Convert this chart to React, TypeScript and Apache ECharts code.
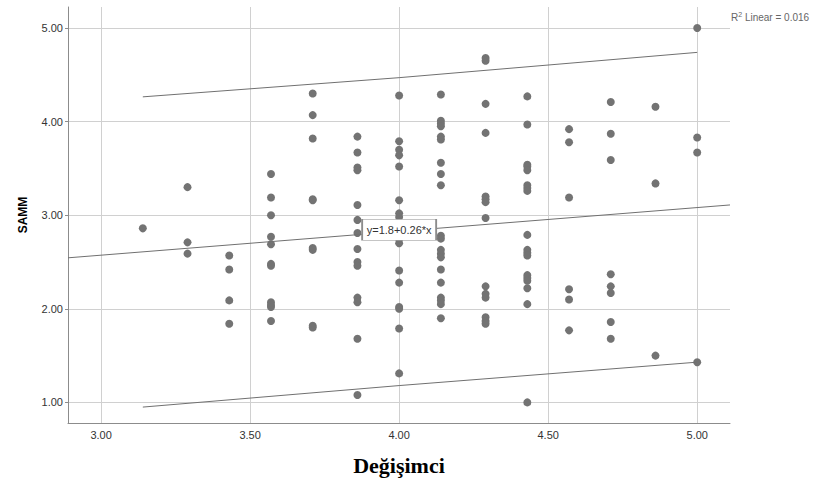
import React, { useEffect, useRef } from "react";
import * as echarts from "echarts";

// X levels (Değişimci) and the SAMM values observed at each level
const xLevels = [3.14, 3.29, 3.43, 3.57, 3.71, 3.86, 4.0, 4.14, 4.29, 4.43, 4.57, 4.71, 4.86, 5.0];
const sammByLevel: number[][] = [
  [2.86],
  [3.3, 2.71, 2.59],
  [2.57, 2.42, 2.09, 1.84],
  [3.44, 3.19, 3.0, 2.77, 2.69, 2.48, 2.46, 2.07, 2.04, 2.02, 1.87],
  [4.3, 4.07, 3.82, 3.17, 3.16, 2.65, 2.63, 1.82, 1.8],
  [3.84, 3.67, 3.51, 3.48, 3.11, 2.95, 2.81, 2.64, 2.5, 2.46, 2.12, 2.07, 1.68, 1.08],
  [4.28, 3.79, 3.7, 3.64, 3.52, 3.16, 3.02, 2.98, 2.8, 2.75, 2.7, 2.41, 2.28, 2.02, 2.0, 1.79, 1.31],
  [4.29, 4.01, 3.98, 3.95, 3.84, 3.81, 3.56, 3.44, 3.32, 2.78, 2.75, 2.63, 2.59, 2.55, 2.42, 2.28, 2.12, 2.09, 2.05, 1.9],
  [4.68, 4.65, 4.19, 3.88, 3.2, 3.17, 3.14, 2.97, 2.24, 2.16, 2.12, 1.91, 1.87, 1.84],
  [4.27, 3.97, 3.54, 3.52, 3.48, 3.32, 3.29, 3.26, 2.79, 2.63, 2.6, 2.57, 2.36, 2.33, 2.3, 2.22, 2.05, 1.0],
  [3.92, 3.78, 3.19, 2.21, 2.1, 1.77],
  [4.21, 3.87, 3.59, 2.37, 2.24, 2.17, 1.86, 1.68],
  [4.16, 3.34, 1.5],
  [5.0, 3.83, 3.67, 1.43],
];

// Fit line and individual prediction interval
const fitLine = [[2.889, 2.545], [5.11, 3.11]];
const upperBand = [[3.14, 4.265], [4.0, 4.47], [5.0, 4.74]];
const lowerBand = [[3.14, 0.95], [4.0, 1.18], [5.0, 1.43]];
const fitLabelAt = [4.0, 2.845];
const fitEquation = "y=1.8+0.26*x";
const rSquaredText = "0.016";

const xTicks = [3.0, 3.5, 4.0, 4.5, 5.0];
const yTicks = [1.0, 2.0, 3.0, 4.0, 5.0];

export default function App() {
  const ref = useRef<HTMLDivElement>(null);
  useEffect(() => {
    document.body.style.margin = "0";
    if (!ref.current) return;
    const chart = echarts.init(ref.current, null, { renderer: "svg" });
    const points: number[][] = [];
    xLevels.forEach((x, i) => sammByLevel[i].forEach((y) => points.push([x, y])));
    const axisColor = "#8c8c8c";
    const gridColor = "#d0d0d0";
    const labelStyle = { color: "#333", fontSize: 11, fontFamily: "Liberation Sans, Arial, sans-serif" };
    chart.setOption({
      animation: false,
      backgroundColor: "#fff",
      grid: { left: 68, right: 86, top: 7, bottom: 62 },
      xAxis: {
        type: "value",
        min: 2.889,
        max: 5.11,
        name: "Değişimci",
        nameLocation: "middle",
        nameGap: 31,
        nameTextStyle: { fontFamily: "Liberation Serif, Times New Roman, serif", fontWeight: "bold", fontSize: 22, color: "#000" },
        axisLine: { show: true, lineStyle: { color: axisColor } },
        axisTick: { show: false, customValues: xTicks },
        axisLabel: { ...labelStyle, customValues: xTicks, margin: 6, formatter: (v: number) => v.toFixed(2) },
        splitLine: { show: true, lineStyle: { color: gridColor, width: 1 } },
      },
      yAxis: {
        type: "value",
        min: 0.78,
        max: 5.225,
        name: "SAMM",
        nameLocation: "middle",
        nameGap: 39,
        nameTextStyle: { fontFamily: "Liberation Sans, Arial, sans-serif", fontWeight: "bold", fontSize: 12, color: "#000" },
        axisLine: { show: true, lineStyle: { color: axisColor } },
        axisTick: { show: true, length: 3, lineStyle: { color: axisColor }, customValues: yTicks },
        axisLabel: { ...labelStyle, customValues: yTicks, margin: 5, formatter: (v: number) => v.toFixed(2) },
        splitLine: { show: true, lineStyle: { color: gridColor, width: 1 } },
      },
      series: [
        {
          type: "line",
          data: upperBand,
          symbol: "none",
          lineStyle: { color: "#707070", width: 1 },
          silent: true,
        },
        {
          type: "line",
          data: lowerBand,
          symbol: "none",
          lineStyle: { color: "#707070", width: 1 },
          silent: true,
        },
        {
          type: "scatter",
          data: points,
          symbol: "circle",
          symbolSize: 8,
          z: 2,
          itemStyle: { color: "#737373", opacity: 1 },
        },
        {
          type: "line",
          data: fitLine,
          symbol: "none",
          lineStyle: { color: "#707070", width: 1 },
          silent: true,
          z: 10,
          markPoint: {
            silent: true,
            z: 20,
            symbol: "rect",
            symbolSize: [74, 21],
            itemStyle: { color: "#ffffff", borderColor: "#8c8c8c", borderWidth: 1, opacity: 1 },
            label: { show: true, position: "inside", formatter: fitEquation, ...labelStyle, color: "#333" },
            data: [{ coord: fitLabelAt }],
          },
        },
      ],
      graphic: [
        {
          type: "text",
          left: 731,
          top: 11,
          style: {
            text: "{a|R}{s|2}{a| Linear = " + rSquaredText + "}",
            rich: {
              a: { fontSize: 10, fill: "#666", fontFamily: "Liberation Sans, Arial, sans-serif", verticalAlign: "bottom" },
              s: { fontSize: 7, fill: "#666", fontFamily: "Liberation Sans, Arial, sans-serif", verticalAlign: "top", padding: [0, 0, 4, 0] },
            },
          },
        },
      ],
    });
    return () => chart.dispose();
  }, []);
  return <div ref={ref} style={{ width: 816, height: 485 }} />;
}
